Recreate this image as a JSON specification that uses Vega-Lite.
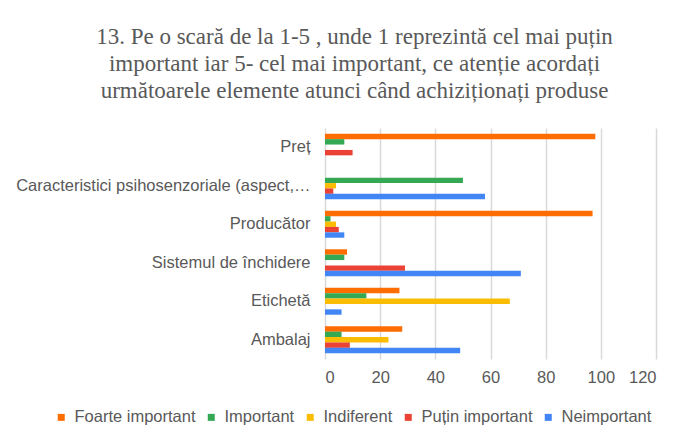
{
  "$schema": "https://vega.github.io/schema/vega-lite/v6.json",
  "width": 331,
  "height": 231,
  "autosize": {"type": "none"},
  "padding": {"left": 325, "top": 128, "right": 25, "bottom": 76},
  "background": "white",
  "title": {
    "text": ["13. Pe o scară de la 1-5 , unde 1 reprezintă cel mai puțin", "important iar 5- cel mai important, ce atenție acordați", "următoarele elemente atunci când achiziționați produse"],
    "font": "Liberation Serif",
    "fontSize": 23,
    "fontWeight": "normal",
    "color": "#595959",
    "lineHeight": 27,
    "anchor": "middle",
    "frame": "group",
    "offset": 25,
    "dx": -136
  },
  "data": {
    "values": [
      {"cat": "Preț", "series": "Foarte important", "value": 98},
      {"cat": "Preț", "series": "Important", "value": 7},
      {"cat": "Preț", "series": "Indiferent", "value": 0},
      {"cat": "Preț", "series": "Puțin important", "value": 10},
      {"cat": "Preț", "series": "Neimportant", "value": 0},
      {"cat": "Caracteristici psihosenzoriale (aspect,…", "series": "Foarte important", "value": 0},
      {"cat": "Caracteristici psihosenzoriale (aspect,…", "series": "Important", "value": 50},
      {"cat": "Caracteristici psihosenzoriale (aspect,…", "series": "Indiferent", "value": 4},
      {"cat": "Caracteristici psihosenzoriale (aspect,…", "series": "Puțin important", "value": 3},
      {"cat": "Caracteristici psihosenzoriale (aspect,…", "series": "Neimportant", "value": 58},
      {"cat": "Producător", "series": "Foarte important", "value": 97},
      {"cat": "Producător", "series": "Important", "value": 2},
      {"cat": "Producător", "series": "Indiferent", "value": 4},
      {"cat": "Producător", "series": "Puțin important", "value": 5},
      {"cat": "Producător", "series": "Neimportant", "value": 7},
      {"cat": "Sistemul de închidere", "series": "Foarte important", "value": 8},
      {"cat": "Sistemul de închidere", "series": "Important", "value": 7},
      {"cat": "Sistemul de închidere", "series": "Indiferent", "value": 0},
      {"cat": "Sistemul de închidere", "series": "Puțin important", "value": 29},
      {"cat": "Sistemul de închidere", "series": "Neimportant", "value": 71},
      {"cat": "Etichetă", "series": "Foarte important", "value": 27},
      {"cat": "Etichetă", "series": "Important", "value": 15},
      {"cat": "Etichetă", "series": "Indiferent", "value": 67},
      {"cat": "Etichetă", "series": "Puțin important", "value": 0},
      {"cat": "Etichetă", "series": "Neimportant", "value": 6},
      {"cat": "Ambalaj", "series": "Foarte important", "value": 28},
      {"cat": "Ambalaj", "series": "Important", "value": 6},
      {"cat": "Ambalaj", "series": "Indiferent", "value": 23},
      {"cat": "Ambalaj", "series": "Puțin important", "value": 9},
      {"cat": "Ambalaj", "series": "Neimportant", "value": 49}
    ]
  },
  "mark": {"type": "bar", "fillOpacity": 1},
  "encoding": {
    "y": {
      "field": "cat",
      "type": "nominal",
      "sort": ["Preț", "Caracteristici psihosenzoriale (aspect,…", "Producător", "Sistemul de închidere", "Etichetă", "Ambalaj"],
      "scale": {"paddingInner": 0.3, "paddingOuter": 0.15},
      "axis": {
        "title": null,
        "domain": false,
        "ticks": false,
        "labelPadding": 15,
        "labelFont": "Liberation Sans",
        "labelFontSize": 16.5,
        "labelColor": "#595959",
        "labelLimit": 500
      }
    },
    "yOffset": {
      "field": "series",
      "type": "nominal",
      "sort": ["Foarte important", "Important", "Indiferent", "Puțin important", "Neimportant"],
      "scale": {"paddingInner": 0, "paddingOuter": 0}
    },
    "x": {
      "field": "value",
      "type": "quantitative",
      "scale": {"domain": [0, 120], "nice": false},
      "axis": {
        "title": null,
        "values": [0, 20, 40, 60, 80, 100, 120],
        "domain": false,
        "ticks": false,
        "grid": true,
        "gridColor": "#d9d9d9",
        "gridWidth": 1.5,
        "labelPadding": 10,
        "labelFont": "Liberation Sans",
        "labelFontSize": 16.5,
        "labelColor": "#595959"
      }
    },
    "color": {
      "field": "series",
      "type": "nominal",
      "sort": ["Foarte important", "Important", "Indiferent", "Puțin important", "Neimportant"],
      "scale": {
        "domain": ["Foarte important", "Important", "Indiferent", "Puțin important", "Neimportant"],
        "range": ["#FF6D01", "#34A853", "#FBBC04", "#EA4335", "#4285F4"]
      },
      "legend": {
        "title": null,
        "orient": "none",
        "direction": "horizontal",
        "legendX": -272,
        "legendY": 281,
        "symbolType": "square",
        "symbolSize": 49,
        "symbolStrokeWidth": 0,
        "labelOffset": 5,
        "columnPadding": 7,
        "labelFont": "Liberation Sans",
        "labelFontSize": 16.5,
        "labelColor": "#595959"
      }
    }
  },
  "config": {
    "view": {"stroke": null}
  }
}
